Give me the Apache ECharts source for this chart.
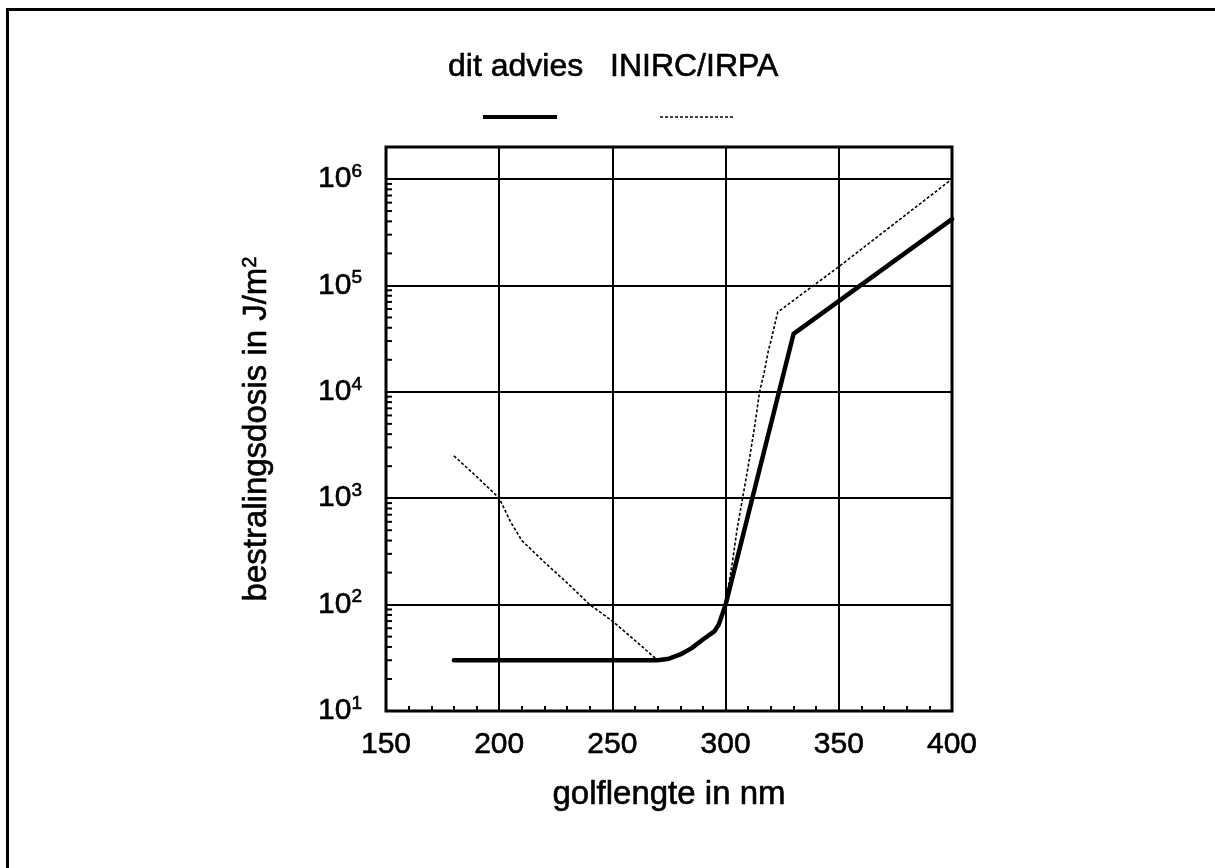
<!DOCTYPE html>
<html>
<head>
<meta charset="utf-8">
<title>bestralingsdosis</title>
<script src="https://cdn.jsdelivr.net/npm/echarts@6/dist/echarts.min.js"></script>
<style>
  html, body { margin: 0; padding: 0; background: #fff; }
  #chart { width: 1215px; height: 868px; }
</style>
</head>
<body>
<div id="chart"></div>
<script>
// Wavelength (nm) and exposure dose (J/m²) per curve
const ditAdviesNm   = [180, 270, 275, 280, 285, 290, 295, 297, 300, 330, 400];
const ditAdviesDose = [30, 30, 31, 34, 39, 47, 56, 65, 100, 35000, 420000];

const inircNm   = [180, 190, 200, 205, 210, 220, 230, 240, 250, 260, 270, 275, 280, 285, 290, 295, 297, 300, 303, 305, 308, 310, 313, 315, 317, 319, 320, 323, 350, 400];
const inircDose = [2500, 1600, 1000, 600, 400, 250, 160, 100, 70, 46, 30, 31, 34, 39, 47, 56, 65, 100, 250, 500, 1150, 2000, 5000, 10000, 15000, 25000, 30000, 56000, 150000, 1000000];

// Axis setup
const xTicks = [150, 200, 250, 300, 350, 400];
const yDecades = [10, 100, 1000, 10000, 100000];
const yMinorSteps = [2, 3, 4, 5, 6, 7, 8, 9];

const legendNames = ['dit advies', 'INIRC/IRPA'];

const FONT = '"Liberation Sans", Arial, Helvetica, sans-serif';
// slight outline so the lettering reads as heavy as the printed figure
const INK = { textBorderColor: '#000', textBorderWidth: 0.6 };

function pairs(xs, ys) {
  return xs.map((x, i) => [x, ys[i]]);
}

// Log minor tick positions along the left edge of the plot
const minorTickData = [];
yDecades.forEach(d => yMinorSteps.forEach(m => minorTickData.push([xTicks[0], d * m])));

const chart = echarts.init(document.getElementById('chart'), null, { renderer: 'canvas' });

chart.setOption({
  backgroundColor: '#fff',
  animation: false,
  grid: {
    left: 386, right: 263, top: 147, bottom: 157,
    show: true, borderColor: '#000', borderWidth: 3, backgroundColor: 'transparent'
  },
  xAxis: {
    type: 'value',
    min: xTicks[0], max: xTicks[xTicks.length - 1], interval: 50,
    axisLine: { show: false },
    axisTick: { show: true, inside: true, length: 5, lineStyle: { color: '#000', width: 2 } },
    minorTick: { show: true, splitNumber: 5, length: 5, lineStyle: { color: '#000', width: 2 } },
    splitLine: { show: true, lineStyle: { color: '#000', width: 2 } },
    axisLabel: Object.assign({ color: '#000', fontFamily: FONT, fontSize: 30, margin: 19 }, INK),
    name: 'golflengte in nm',
    nameLocation: 'middle',
    nameGap: 67,
    nameTextStyle: Object.assign({ color: '#000', fontFamily: FONT, fontSize: 33 }, INK)
  },
  yAxis: {
    type: 'log',
    logBase: 10,
    min: 10, max: 2000000,
    axisLine: { show: false },
    axisTick: { show: false },
    splitLine: { show: true, lineStyle: { color: '#000', width: 2 } },
    axisLabel: Object.assign({
      margin: 24,
      color: '#000',
      fontFamily: FONT,
      fontSize: 30,
      formatter: function (v) {
        const e = Math.log10(v);
        const r = Math.round(e);
        if (Math.abs(e - r) > 1e-6) return '';
        return '10{s|' + r + '}';
      },
      rich: {
        s: Object.assign({ fontFamily: FONT, fontSize: 19, color: '#000', verticalAlign: 'top', padding: [0, 0, 15, 0] }, INK)
      }
    }, INK),
    name: 'bestralingsdosis in J/m{s|2}',
    nameLocation: 'middle',
    nameGap: 112,
    nameRotate: 90,
    nameTextStyle: Object.assign({
      color: '#000', fontFamily: FONT, fontSize: 33,
      rich: {
        s: Object.assign({ fontFamily: FONT, fontSize: 20, color: '#000', verticalAlign: 'top', padding: [0, 0, 14, 0] }, INK)
      }
    }, INK)
  },
  series: [
    {
      name: legendNames[1],
      type: 'line',
      data: pairs(inircNm, inircDose),
      showSymbol: false,
      symbol: 'none',
      z: 3,
      lineStyle: { color: '#000', width: 1.6, type: [3, 2] }
    },
    {
      name: legendNames[0],
      type: 'line',
      data: pairs(ditAdviesNm, ditAdviesDose),
      showSymbol: false,
      symbol: 'none',
      z: 4,
      lineStyle: { color: '#000', width: 4.5, cap: 'round', join: 'round' }
    },
    {
      type: 'custom',
      data: minorTickData,
      silent: true,
      z: 2,
      renderItem: function (params, api) {
        const p = api.coord([api.value(0), api.value(1)]);
        return {
          type: 'line',
          shape: { x1: p[0], y1: p[1], x2: p[0] + 6, y2: p[1] },
          style: { stroke: '#000', lineWidth: 2 }
        };
      }
    }
  ],
  graphic: [
    // page frame (top and left edges)
    {
      type: 'polyline',
      shape: { points: [[7.5, 868], [7.5, 9.5], [1215, 9.5]] },
      style: { stroke: '#000', lineWidth: 3, fill: null }
    },
    // legend
    {
      type: 'text', x: 448, y: 67,
      style: { text: legendNames[0], font: '32px ' + FONT, fill: '#000', stroke: '#000', lineWidth: 0.6, textAlign: 'left', textVerticalAlign: 'middle' }
    },
    {
      type: 'text', x: 610, y: 67,
      style: { text: legendNames[1], font: '32px ' + FONT, fill: '#000', stroke: '#000', lineWidth: 0.6, textAlign: 'left', textVerticalAlign: 'middle' }
    },
    {
      type: 'line',
      shape: { x1: 483, y1: 117, x2: 557, y2: 117 },
      style: { stroke: '#000', lineWidth: 4 }
    },
    {
      type: 'line',
      shape: { x1: 660, y1: 117, x2: 733, y2: 117 },
      style: { stroke: '#000', lineWidth: 1.5, lineDash: [3, 2] }
    }
  ]
});
</script>
</body>
</html>
